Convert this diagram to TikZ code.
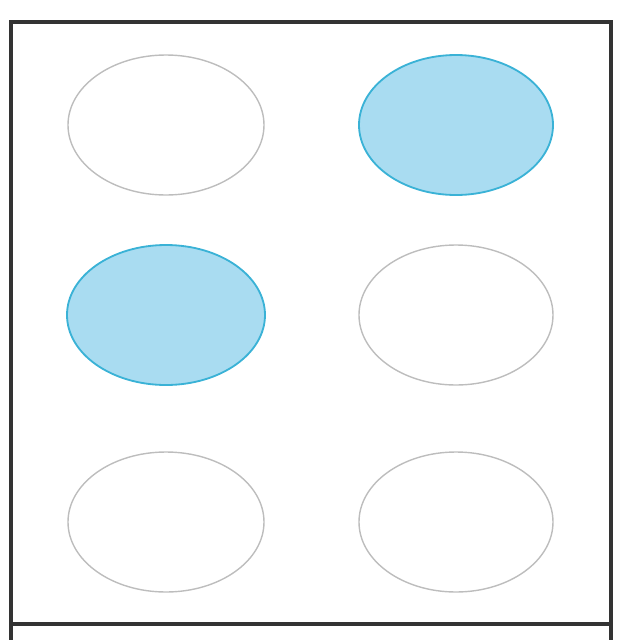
\documentclass[tikz,border=0pt]{standalone}
\definecolor{dotfill}{HTML}{A9DCF1}
\definecolor{dotline}{HTML}{3AB2D6}
\definecolor{emptyline}{HTML}{BDBDBD}
\definecolor{frameline}{HTML}{333333}
\begin{document}
\begin{tikzpicture}[x=0.025cm,y=-0.025cm]
  \useasboundingbox (0,0) rectangle (640,640);
  % Frame
  \draw[frameline,line width=2.2pt] (11,640) -- (11,22) -- (611,22) -- (611,640);
  \draw[frameline,line width=2.2pt] (11,624) -- (611,624);
  % Raised dots
  \draw[dotline,fill=dotfill,line width=1.3pt] (456,125) ellipse[x radius=97,y radius=70];
  \draw[dotline,fill=dotfill,line width=1.3pt] (166,315) ellipse[x radius=99,y radius=70];
  % Empty dots
  \draw[emptyline,line width=1pt] (166,125) ellipse[x radius=98,y radius=70];
  \draw[emptyline,line width=1pt] (456,315) ellipse[x radius=97,y radius=70];
  \draw[emptyline,line width=1pt] (166,522) ellipse[x radius=98,y radius=70];
  \draw[emptyline,line width=1pt] (456,522) ellipse[x radius=97,y radius=70];
\end{tikzpicture}
\end{document}
